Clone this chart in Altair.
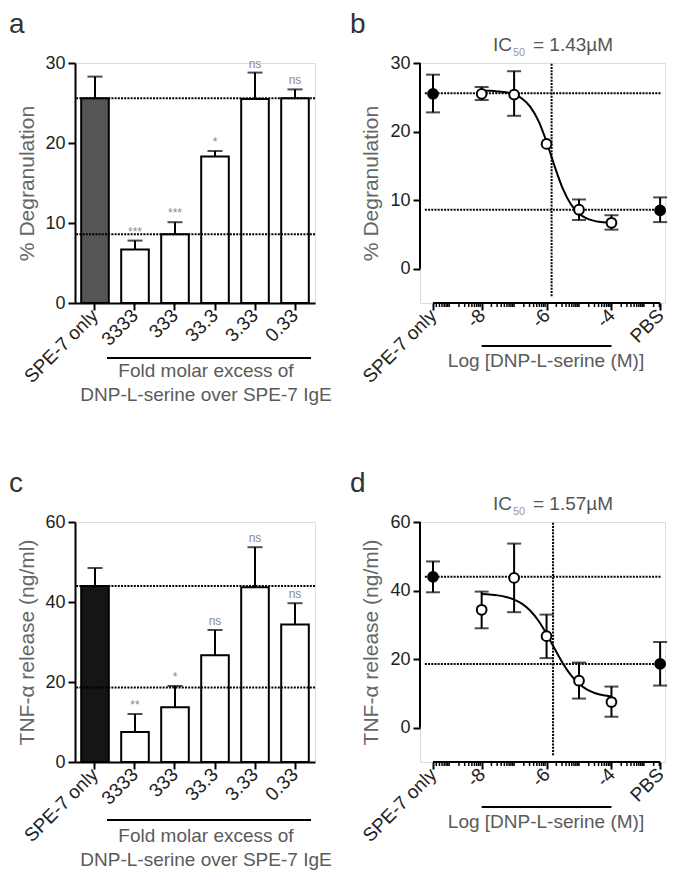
import math
import altair as alt
import pandas as pd

FONT = "Liberation Sans"
LABEL_C = "#222222"
TITLE_C = "#666666"
DASH = [2, 1.2]

# ---------------- data ----------------
bar_groups = ["SPE-7 only", "3333", "333", "33.3", "3.33", "0.33"]

a_means = [25.6, 6.7, 8.6, 18.3, 25.5, 25.6]
a_upper = [28.3, 7.8, 10.1, 19.0, 28.8, 26.7]
a_sig = ["", "***", "***", "*", "ns", "ns"]
a_refs = [25.6, 8.6]

c_means = [44.0, 7.5, 13.7, 26.7, 43.7, 34.4]
c_upper = [48.5, 12.0, 19.0, 33.0, 53.7, 39.7]
c_sig = ["", "**", "*", "ns", "ns", "ns"]
c_refs = [44.0, 18.6]

dose_x = [-9.5, -8, -7, -6, -5, -4, -2.5]
dose_filled = [True, False, False, False, False, False, True]

b_mean = [25.5, 25.5, 25.4, 18.2, 8.6, 6.7, 8.5]
b_lo = [22.8, 24.6, 22.3, None, 7.1, 5.7, 6.8]
b_hi = [28.3, 26.5, 28.8, None, 10.1, 7.8, 10.4]
b_refs = [25.6, 8.6]
b_ic50_log = -5.845

d_mean = [44.0, 34.4, 43.7, 26.7, 13.7, 7.5, 18.6]
d_lo = [39.5, 29.0, 33.7, 20.3, 8.5, 3.2, 12.3]
d_hi = [48.5, 39.7, 53.7, 33.0, 19.0, 12.0, 25.0]
d_refs = [44.0, 18.6]
d_ic50_log = -5.80

curve_x = [-8.0, -7.75, -7.5, -7.25, -7.0, -6.75, -6.5, -6.25, -6.0,
           -5.75, -5.5, -5.25, -5.0, -4.75, -4.5, -4.25, -4.0]
b_curve_y = [25.97, 25.94, 25.86, 25.72, 25.41, 24.79, 23.61, 21.55, 18.51,
             14.93, 11.69, 9.40, 8.03, 7.31, 6.94, 6.76, 6.68]
d_curve_y = [39.01, 38.86, 38.6, 38.15, 37.38, 36.11, 34.11, 31.19, 27.36,
             23.02, 18.82, 15.33, 12.79, 11.10, 10.06, 9.44, 9.08]

major_ticks = [-9.5, -8, -6, -4, -2.5]
minor_ticks = sorted(
    round(n + math.log10(k), 4)
    for n in range(-10, -2)
    for k in range(1, 10)
    if -9.5 < n + math.log10(k) < -2.5 and round(n + math.log10(k), 4) not in major_ticks
)

W, H = 240, 240
DW = 245


def txt(text, x, y, size, color, align="left", line_height=None):
    kw = dict(font=FONT, fontSize=size, color=color, align=align, baseline="alphabetic")
    if line_height:
        kw["lineBreak"] = "\n"
        kw["lineHeight"] = line_height
    return alt.Chart(pd.DataFrame({"t": [text]})).mark_text(**kw).encode(
        x=alt.value(x), y=alt.value(y), text="t:N")


def bar_panel(means, upper, sig, first_fill, refs, ymax, yvals, ytitle, letter,
              line_y, title_y):
    fills = [first_fill] + ["white"] * (len(bar_groups) - 1)
    df = pd.DataFrame({"g": bar_groups, "y": means, "y2": upper, "s": sig, "f": fills})
    x_enc = alt.X("g:N", sort=bar_groups,
                  scale=alt.Scale(paddingInner=0.31, paddingOuter=0.155),
                  axis=alt.Axis(title=None, labelAngle=315, labelAlign="right",
                                labelBaseline="middle", labelFontSize=19, labelColor=LABEL_C,
                                tickSize=7, tickWidth=2, tickColor="black", grid=False,
                                domainWidth=2, domainColor="black", labelPadding=2))
    y_enc = alt.Y("y:Q", scale=alt.Scale(domain=[0, ymax], nice=False),
                  axis=alt.Axis(values=yvals, title=ytitle, titleFontSize=21, grid=False,
                                titleColor=TITLE_C, titleFontWeight="normal",
                                labelFontSize=18, labelColor=LABEL_C, tickSize=7,
                                tickWidth=2, tickColor="black", domainWidth=2,
                                domainColor="black", titlePadding=7, labelPadding=3))
    base = alt.Chart(df)
    bars = base.mark_bar(stroke="black", strokeWidth=2).encode(
        x=x_enc, y=y_enc, fill=alt.Fill("f:N", scale=None))
    err = base.mark_rule(strokeWidth=2, color="black").encode(x=x_enc, y=y_enc, y2="y2:Q")
    cap = base.mark_tick(orient="horizontal", size=15, thickness=2, color="black").encode(
        x=x_enc, y=alt.Y("y2:Q"))
    sigt = base.mark_text(font=FONT, fontSize=12, color="#8a8a8a", dy=-5,
                          baseline="alphabetic").encode(x=x_enc, y=alt.Y("y2:Q"), text="s:N")
    ref = alt.Chart(pd.DataFrame({"y": refs})).mark_rule(
        strokeDash=DASH, strokeWidth=2, color="black").encode(y=y_enc)
    under = alt.Chart(pd.DataFrame({"t": [0]})).mark_rule(strokeWidth=2, color="black").encode(
        x=alt.value(32), x2=alt.value(236), y=alt.value(line_y))
    title = txt("Fold molar excess of\nDNP-L-serine over SPE-7 IgE", 131, title_y, 19,
                "#5a5a5a", align="center", line_height=24)
    lab = txt(letter, -66, -30, 28, "#333333")
    return alt.layer(bars, err, cap, sigt, ref, under, title, lab).properties(width=W, height=H)


def dose_panel(mean, lo, hi, curve_y, refs, ic50_log, ic_text, ymin, ymax, ytop, yvals,
               ytitle, letter, vline_bottom, line_y, title_y):
    xsc = alt.Scale(domain=[-9.9, -2.35], nice=False, zero=False)
    ysc = alt.Scale(domain=[ymin, ymax], nice=False, zero=False)
    x_enc = alt.X("x:Q", scale=xsc,
                  axis=alt.Axis(title=None, domain=False, values=major_ticks, grid=False,
                                labelExpr="datum.value == -9.5 ? 'SPE-7 only' : (datum.value == -2.5 ? 'PBS' : '' + datum.value)",
                                labelAngle=315, labelAlign="right", labelBaseline="middle",
                                labelFontSize=19, labelColor=LABEL_C, tickSize=7,
                                tickWidth=2, tickColor="black", labelPadding=2,
                                labelFlush=False, labelOverlap=False))
    y_enc = alt.Y("y:Q", scale=ysc,
                  axis=alt.Axis(title=ytitle, domain=False, values=yvals, grid=False,
                                titleFontSize=21, titleColor=TITLE_C, titleFontWeight="normal",
                                labelFontSize=18, labelColor=LABEL_C, tickSize=7,
                                tickWidth=2, tickColor="black", titlePadding=8,
                                labelPadding=3))
    pts = pd.DataFrame({"x": dose_x, "y": mean,
                        "f": ["black" if f else "white" for f in dose_filled]})
    err_rows = [(x, l, h) for x, l, h in zip(dose_x, lo, hi) if l is not None]
    errdf = pd.DataFrame({"x": [r[0] for r in err_rows], "y": [r[1] for r in err_rows],
                          "y2": [r[2] for r in err_rows]})
    capdf = pd.DataFrame({"x": [r[0] for r in err_rows] * 2,
                          "y": [r[1] for r in err_rows] + [r[2] for r in err_rows]})

    yline = alt.Chart(pd.DataFrame({"y": [0], "y2": [ytop]})).mark_rule(
        strokeWidth=2, color="black").encode(x=alt.value(0), y=y_enc, y2="y2:Q")
    xline = alt.Chart(pd.DataFrame({"x": [-9.5], "x2": [-2.5]})).mark_rule(
        strokeWidth=2, color="black").encode(x=x_enc, x2="x2:Q", y=alt.value(H))
    minor = alt.Chart(pd.DataFrame({"x": minor_ticks})).mark_rule(
        strokeWidth=1.5, color="black").encode(x=x_enc, y=alt.value(H), y2=alt.value(H + 4))
    ref = alt.Chart(pd.DataFrame({"x": [-9.75] * len(refs), "x2": [-2.45] * len(refs),
                                  "y": refs})).mark_rule(
        strokeDash=DASH, strokeWidth=2, color="black").encode(x=x_enc, x2="x2:Q", y=y_enc)
    vline = alt.Chart(pd.DataFrame({"x": [ic50_log], "y": [vline_bottom], "y2": [ymax]})).mark_rule(
        strokeDash=DASH, strokeWidth=2, color="black").encode(x=x_enc, y=y_enc, y2="y2:Q")
    curve = alt.Chart(pd.DataFrame({"x": curve_x, "y": curve_y})).mark_line(
        interpolate="monotone", strokeWidth=2, color="black").encode(x=x_enc, y=y_enc)
    err = alt.Chart(errdf).mark_rule(strokeWidth=2, color="black").encode(
        x=x_enc, y=y_enc, y2="y2:Q")
    cap = alt.Chart(capdf).mark_tick(orient="horizontal", size=14, thickness=2,
                                     color="black").encode(x=x_enc, y=y_enc)
    points = alt.Chart(pts).mark_point(shape="circle", filled=True, size=95, stroke="black",
                                       strokeWidth=2, opacity=1).encode(
        x=x_enc, y=y_enc, fill=alt.Fill("f:N", scale=None))
    under = alt.Chart(pd.DataFrame({"x": [-8], "x2": [-4]})).mark_rule(
        strokeWidth=2, color="black").encode(x=x_enc, x2="x2:Q", y=alt.value(line_y))
    title = txt("Log [DNP-L-serine (M)]", 126, title_y, 19, "#5a5a5a", align="center")
    ic1 = txt("IC", 73, -12, 19, "#555555")
    ic2 = txt("50", 93, -7, 11, "#9a9a9a")
    ic3 = txt(ic_text, 113, -12, 19, "#555555")
    lab = txt(letter, -70, -30, 28, "#333333")
    return alt.layer(yline, xline, minor, ref, vline, curve, err, cap, points,
                     under, title, ic1, ic2, ic3, lab).properties(width=DW, height=H)


pa = bar_panel(a_means, a_upper, a_sig, "#555555", a_refs, 30, [0, 10, 20, 30],
               "% Degranulation", "a", 295, 314)
pc = bar_panel(c_means, c_upper, c_sig, "#151515", c_refs, 60, [0, 20, 40, 60],
               "TNF-α release (ng/ml)", "c", 298, 320)
pb = dose_panel(b_mean, b_lo, b_hi, b_curve_y, b_refs, b_ic50_log, "= 1.43µM",
                -5, 30, 30, [0, 10, 20, 30], "% Degranulation", "b", -4, 283, 304)
pd_ = dose_panel(d_mean, d_lo, d_hi, d_curve_y, d_refs, d_ic50_log, "= 1.57µM",
                 -10, 60, 60, [0, 20, 40, 60], "TNF-α release (ng/ml)", "d", -8, 285, 306)

chart = alt.concat(pa, pb, pc, pd_, columns=2,
                   spacing=alt.RowColnumber(row=219, column=105),
                   bounds="flush").configure_view(stroke=None).configure_axis(
    labelFont=FONT, titleFont=FONT, grid=False).configure(
    padding={"top": 2, "left": 0, "right": 0, "bottom": 0})

chart.save("out.html", embed_options={"renderer": "svg", "actions": False})
